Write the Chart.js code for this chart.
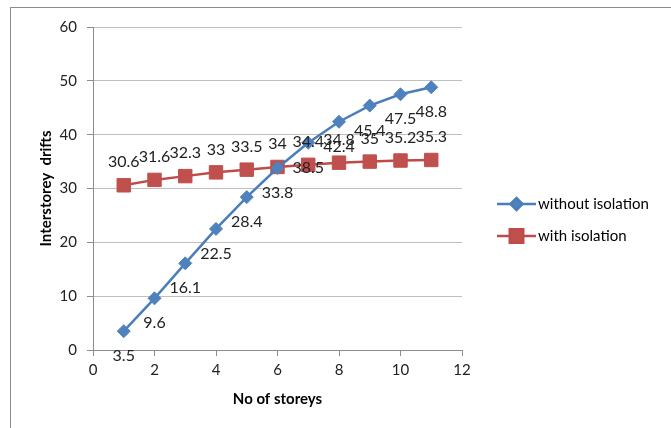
<!DOCTYPE html>
<html>
<head>
<meta charset="utf-8">
<script src="https://cdn.jsdelivr.net/npm/chart.js@4"></script>
<style>
  body { margin: 0; background: #fff; }
  #wrap { position: relative; width: 671px; height: 428px; }
  #border { position: absolute; left: 10px; top: 7px; width: 680px; height: 440px; border: 1px solid #8c8c8c; box-sizing: border-box; }
  canvas { position: absolute; left: 0; top: 0; }
</style>
</head>
<body>
<div id="wrap">
  <div id="border"></div>
  <canvas id="chart" width="671" height="428"></canvas>
</div>
<script>
const storeys = [1, 2, 3, 4, 5, 6, 7, 8, 9, 10, 11];
const withoutIsolation = [3.5, 9.6, 16.1, 22.5, 28.4, 33.8, 38.5, 42.4, 45.4, 47.5, 48.8];
const withIsolation = [30.6, 31.6, 32.3, 33, 33.5, 34, 34.4, 34.8, 35, 35.2, 35.3];
const seriesNames = ['without isolation', 'with isolation'];

const BLUE = '#4A7EBB';
const BLUE_FILL = '#4F81BD';
const RED = '#BE4B48';
const RED_FILL = '#C0504D';
const FONT = 'Lato, "Open Sans", sans-serif';

const toPoints = (vals) => storeys.map((x, i) => ({ x, y: vals[i] }));

// value labels: blue under the point, red above it
const labelPlugin = {
  id: 'valueLabels',
  afterDatasetsDraw(chart) {
    const ctx = chart.ctx;
    ctx.save();
    ctx.font = '16px ' + FONT;
    ctx.fillStyle = '#222';
    ctx.textAlign = 'center';
    ctx.textBaseline = 'middle';
    chart.data.datasets.forEach((ds, di) => {
      const meta = chart.getDatasetMeta(di);
      meta.data.forEach((pt, i) => {
        const dy = di === 0 ? 25 : -23;
        ctx.fillText(String(ds.data[i].y), pt.x, pt.y + dy);
      });
    });
    ctx.restore();
  }
};

// legend at the right: line with marker + text
const legendPlugin = {
  id: 'sideLegend',
  afterDraw(chart) {
    const ctx = chart.ctx;
    ctx.save();
    const items = [
      { y: 204, color: BLUE, fill: BLUE_FILL, style: 'rectRot', r: 6 },
      { y: 236, color: RED, fill: RED_FILL, style: 'rect', r: 9.5 }
    ];
    items.forEach((it, i) => {
      ctx.strokeStyle = it.color;
      ctx.lineWidth = 2.5;
      ctx.beginPath();
      ctx.moveTo(497, it.y);
      ctx.lineTo(536, it.y);
      ctx.stroke();
      ctx.fillStyle = it.fill;
      Chart.helpers.drawPoint(ctx, { pointStyle: it.style, radius: it.r, borderWidth: 1 }, 516.5, it.y);
      ctx.fillStyle = '#000';
      ctx.font = '15px ' + FONT;
      ctx.textBaseline = 'middle';
      ctx.textAlign = 'left';
      ctx.fillText(seriesNames[i], 538, it.y);
    });
    ctx.restore();
  }
};

new Chart(document.getElementById('chart'), {
  type: 'scatter',
  data: {
    datasets: [
      {
        label: seriesNames[0],
        data: toPoints(withoutIsolation),
        showLine: true,
        borderColor: BLUE,
        backgroundColor: BLUE_FILL,
        borderWidth: 2.5,
        pointStyle: 'rectRot',
        pointRadius: 6.5,
        pointBorderColor: BLUE_FILL,
        pointBorderWidth: 1
      },
      {
        label: seriesNames[1],
        data: toPoints(withIsolation),
        showLine: true,
        borderColor: RED,
        backgroundColor: RED_FILL,
        borderWidth: 2.5,
        pointStyle: 'rect',
        pointRadius: 9.5,
        pointBorderColor: RED_FILL,
        pointBorderWidth: 1
      }
    ]
  },
  options: {
    responsive: false,
    animation: false,
    layout: { padding: { left: 10, top: 27, right: 209, bottom: 0 } },
    plugins: {
      legend: { display: false },
      tooltip: { enabled: false }
    },
    scales: {
      x: {
        type: 'linear',
        min: 0,
        max: 12,
        ticks: { stepSize: 2, color: '#222', padding: 5, font: { family: FONT, size: 15 } },
        grid: { drawOnChartArea: false, drawTicks: true, tickLength: 6, color: '#8c8c8c' },
        border: { color: '#8c8c8c', width: 1 },
        title: { display: true, text: 'No of storeys', color: '#000', padding: { top: 0, bottom: 20 }, font: { family: FONT, size: 15, weight: 'bold' } },
        afterFit: (s) => { s.height = 78; }
      },
      y: {
        min: 0,
        max: 60,
        ticks: { stepSize: 10, color: '#222', padding: 10, font: { family: FONT, size: 15 } },
        grid: { color: '#bfbfbf', drawTicks: true, tickLength: 6, tickColor: '#8c8c8c' },
        border: { color: '#8c8c8c', width: 1 },
        title: { display: true, text: 'Interstorey  drifts', color: '#000', padding: { top: 27, bottom: 0 }, font: { family: FONT, size: 15, weight: 'bold' } },
        afterFit: (s) => { s.width = 83; }
      }
    }
  },
  plugins: [labelPlugin, legendPlugin]
});
</script>
</body>
</html>
